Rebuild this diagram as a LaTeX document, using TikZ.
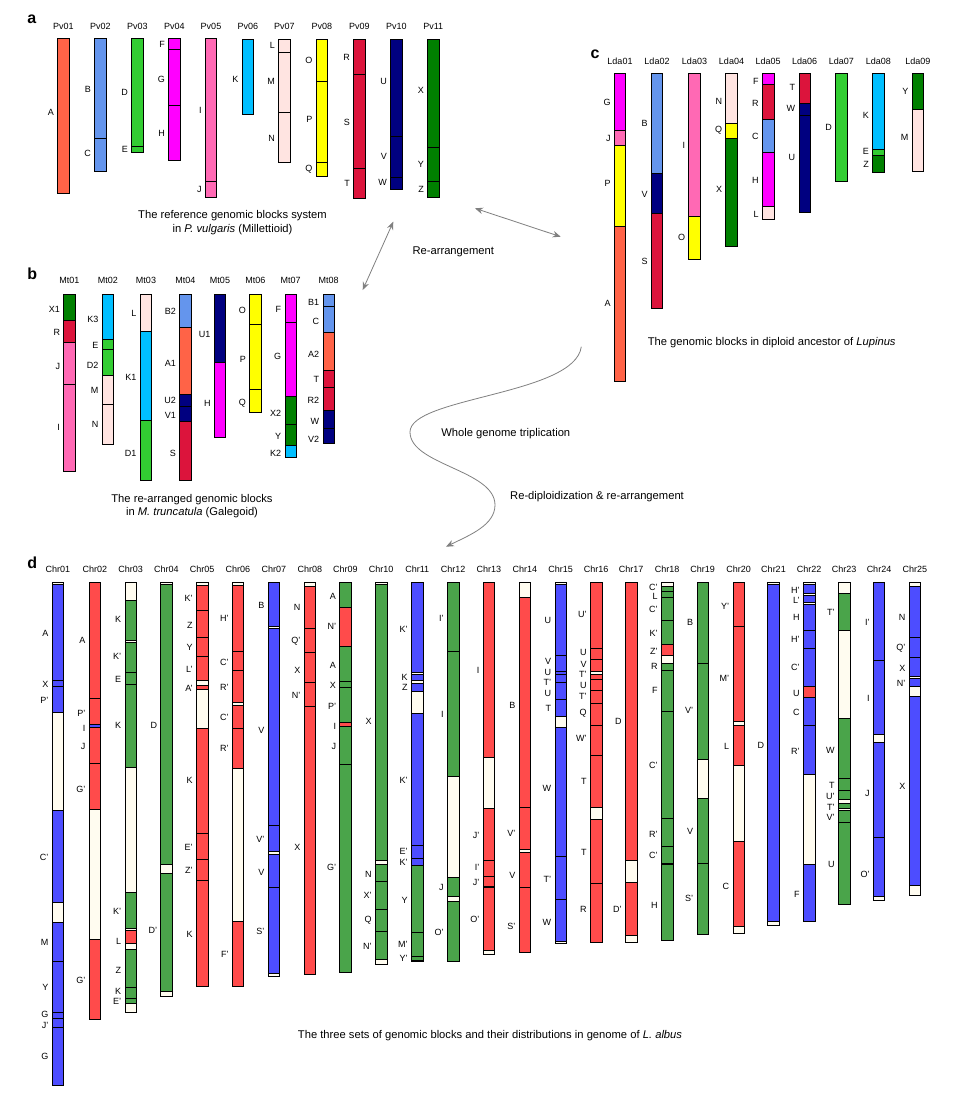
\documentclass[tikz,border=0pt]{standalone}
\usepackage{fontspec}
\setmainfont{Liberation Sans}
\usetikzlibrary{arrows.meta}

\newcommand{\chrom}[5]{%
  \node[ttl] (#1) at (#2,#3) {#1};
  \foreach \ya/\yb/\cc in {#4}
    \path[blk,fill=\cc] (#2-5.8,\ya) rectangle (#2+5.8,\yb);
  \foreach \yy/\bl [count=\k] in {#5}
    \node[lab] (#1-\k) at (#2-9.3,\yy) {\bl};
}

\begin{document}
\begin{tikzpicture}[x=1pt,y=-1pt,
  blk/.style={draw=black,line width=0.7pt},
  ttl/.style={inner sep=0pt,font=\fontsize{9}{10}\selectfont},
  lab/.style={anchor=east,inner sep=0pt,font=\fontsize{9}{10}\selectfont},
  capt/.style={inner sep=0pt,align=center,font=\fontsize{11.2}{13.5}\selectfont},
  pnl/.style={inner sep=0pt,font=\fontsize{16}{17}\bfseries\selectfont},
  flow/.style={draw=arrowColor,line width=0.8pt},
  tip/.tip={Stealth[length=8pt,width=6.5pt]}]
\definecolor{tom}{RGB}{255,99,71}
\definecolor{cfb}{RGB}{100,149,237}
\definecolor{lim}{RGB}{50,205,50}
\definecolor{mag}{RGB}{255,0,255}
\definecolor{hpk}{RGB}{255,105,180}
\definecolor{dsb}{RGB}{0,191,255}
\definecolor{mrs}{RGB}{255,228,225}
\definecolor{yel}{RGB}{255,255,0}
\definecolor{crm}{RGB}{220,20,60}
\definecolor{nav}{RGB}{0,0,128}
\definecolor{grn}{RGB}{0,128,0}
\definecolor{dB}{RGB}{77,77,255}
\definecolor{dR}{RGB}{255,75,75}
\definecolor{dG}{RGB}{74,164,74}
\definecolor{dC}{RGB}{255,252,240}
\definecolor{arrowColor}{RGB}{128,128,128}
\path[use as bounding box,fill=white] (0,0) rectangle (971,1096);

% panel a
\node[pnl] (la) at (31.7,19.5) {a};
\chrom{Pv01}{63.3}{26.7}{38.3/193.3/tom}{112/A}
\chrom{Pv02}{100.3}{26.7}{38.3/138/cfb,138/171.3/cfb}{89/B,153/C}
\chrom{Pv03}{137.3}{26.7}{38.3/146/lim,146/152.3/lim}{92/D,149/E}
\chrom{Pv04}{174.3}{26.7}{38.3/49.3/mag,49.3/105.3/mag,105.3/160/mag}{44/F,79/G,133/H}
\chrom{Pv05}{211}{26.7}{38.3/181.3/hpk,181.3/197.3/hpk}{110/I,189/J}
\chrom{Pv06}{247.8}{26.7}{39.3/114.3/dsb}{79/K}
\chrom{Pv07}{284.3}{26.7}{39.3/52.3/mrs,52.3/112.7/mrs,112.7/162.3/mrs}{45.7/L,81/M,138/N}
\chrom{Pv08}{321.8}{26.7}{39.3/81.3/yel,81.3/162.3/yel,162.3/176/yel}{60/O,119/P,169/Q}
\chrom{Pv09}{359.3}{26.7}{39.3/74.7/crm,74.7/168.7/crm,168.7/198.3/crm}{57/R,122/S,183.7/T}
\chrom{Pv10}{396.3}{26.7}{39.3/136/nav,136/177.7/nav,177.7/189.3/nav}{81/U,156/V,182.7/W}
\chrom{Pv11}{433.3}{26.7}{39.3/147.3/grn,147.3/181.7/grn,181.7/197.3/grn}{90/X,164/Y,189.7/Z}
\node[capt] (capa) at (232.5,222.7) {The reference genomic blocks system\\in \textit{P. vulgaris} (Millettioid)};

% panel b
\node[pnl] (lb) at (32.3,274) {b};
\chrom{Mt01}{69.5}{280.7}{294/320.3/grn,320.3/342.3/crm,342.3/384.3/hpk,384.3/471/hpk}{309.3/X1,332.3/R,366/J,427.7/I}
\chrom{Mt02}{107.8}{280.7}{294/339.3/dsb,339.3/349.3/lim,349.3/375.3/lim,375.3/404.3/mrs,404.3/444.3/mrs}{319/K3,345.7/E,365.7/D2,390.7/M,424.7/N}
\chrom{Mt03}{146}{280.7}{294/331.3/mrs,331.3/420/dsb,420/480.3/lim}{313.7/L,377.3/K1,453/D1}
\chrom{Mt04}{185.5}{280.7}{294/327.3/cfb,327.3/394.3/tom,394.3/406.3/nav,406.3/421.7/nav,421.7/480.3/crm}{311.7/B2,363.7/A1,400/U2,415/V1,453.3/S}
\chrom{Mt05}{220}{280.7}{294/362.7/nav,362.7/437/mag}{334/U1,403.7/H}
\chrom{Mt06}{255.3}{280.7}{294/324.3/yel,324.3/389.3/yel,389.3/412.3/yel}{310.3/O,359.3/P,403.3/Q}
\chrom{Mt07}{290.7}{280.7}{294/322.3/mag,322.3/396.7/mag,396.7/424.7/grn,424.7/445.3/grn,445.3/457.3/dsb}{309.3/F,356.7/G,413.7/X2,436.7/Y,453.3/K2}
\chrom{Mt08}{328.7}{280.7}{294/306.3/cfb,306.3/332.3/cfb,332.3/370.7/tom,370.7/387.7/crm,387.7/410/crm,410/428.7/nav,428.7/443.3/nav}{302.3/B1,321/C,354.7/A2,379/T,400.3/R2,421.3/W,439/V2}
\node[capt] (capb) at (192,506.3) {The re-arranged genomic blocks\\in \textit{M. truncatula} (Galegoid)};

% panel c
\node[pnl] (lc) at (595,54) {c};
\chrom{Lda01}{620}{61.7}{73.3/130.3/mag,130.3/145.3/hpk,145.3/226.3/yel,226.3/381.3/tom}{102.7/G,138.3/J,183.3/P,303.3/A}
\chrom{Lda02}{657}{61.7}{73.3/173.3/cfb,173.3/213.3/nav,213.3/308/crm}{123.3/B,194/V,261.7/S}
\chrom{Lda03}{694.5}{61.7}{73.3/216.3/hpk,216.3/259/yel}{145.3/I,237.7/O}
\chrom{Lda04}{731.5}{61.7}{73.3/123.3/mrs,123.3/138.3/yel,138.3/246.3/grn}{101/N,130.7/Q,189.7/X}
\chrom{Lda05}{768.2}{61.7}{73.3/84.3/mag,84.3/119.3/crm,119.3/152.3/cfb,152.3/206.3/mag,206.3/219.3/mrs}{81/F,103.7/R,136/C,180/H,214/L}
\chrom{Lda06}{804.7}{61.7}{73.3/103/crm,103/115.3/nav,115.3/212.3/nav}{87.7/T,108.7/W,157.7/U}
\chrom{Lda07}{841.3}{61.7}{73.3/181.3/lim}{127.7/D}
\chrom{Lda08}{878.3}{61.7}{73.3/149.3/dsb,149.3/155.3/lim,155.3/172.3/grn}{115/K,151/E,164/Z}
\chrom{Lda09}{917.8}{61.7}{73.3/109/grn,109/171.3/mrs}{91.7/Y,137.7/M}
\node[capt] (capc) at (771.7,342.7) {The genomic blocks in diploid ancestor of \textit{Lupinus}};

% arrows
\coordinate (ac1) at (475,208.3);
\coordinate (ac2) at (560.7,236.7);
\coordinate (ab1) at (393.3,221.7);
\coordinate (ab2) at (362.7,290);
\coordinate (cd1) at (581.3,346.7);
\coordinate (cd2) at (446,546.7);
\draw[flow,tip-tip] (ac1) -- (ac2);
\draw[flow,tip-tip] (ab1) -- (ab2);
\draw[flow,-tip] (cd1) .. controls (575,395) and (410,397) .. (410,432)
  .. controls (410,465) and (495,470) .. (495,505)
  .. controls (495,525) and (470,535) .. (cd2);
\node[capt] (rearr) at (453.3,251.7) {Re-arrangement};
\node[capt] (wgt) at (505.8,434) {Whole genome triplication};
\node[capt,anchor=west] (rediplo) at (510,496.7) {Re-diploidization \& re-arrangement};

% panel d
\node[pnl] (ld) at (32.3,562.7) {d};
\chrom{Chr01}{57.8}{569.3}{582.3/584.3/dC,584.3/680.7/dB,680.7/686.3/dB,686.3/712.3/dB,712.3/810.3/dC,810.3/902.3/dB,902.3/922.3/dC,922.3/961.7/dB,961.7/1012/dB,1012/1018.3/dB,1018.3/1027.7/dB,1027.7/1085.3/dB}{633.7/A,684.3/X,700.7/P',857.7/C',942.7/M,987.7/Y,1014.3/G,1025/J',1056.7/G}
\chrom{Chr02}{94.8}{569.3}{582.3/698.7/dR,698.7/724.3/dR,724.3/727.7/dB,727.7/763.3/dR,763.3/809.3/dR,809.3/939.3/dC,939.3/1019.3/dR}{640.7/A,713.3/P',728.3/I,746.7/J,789.3/G',980.7/G'}
\chrom{Chr03}{130.7}{569.3}{582.3/600.3/dC,600.3/640.3/dG,640.3/642.3/dC,642.3/672/dG,672/684.7/dG,684.7/767/dG,767/892.3/dC,892.3/928.3/dG,928.3/930/dC,930/943.7/dR,943.7/949.7/dC,949.7/987/dG,987/998/dG,998/1003.7/dG,1003.7/1012.7/dC}{619.7/K,656.7/K',679.3/E,725.7/K,911.7/K',941.7/L,970.7/Z,991.7/K,1001.7/E'}
\chrom{Chr04}{166.5}{569.3}{582.3/584.3/dC,584.3/864.3/dG,864.3/873.3/dC,873.3/991.7/dG,991.7/996/dC}{725.7/D,930.7/D'}
\chrom{Chr05}{202.2}{569.3}{582.3/585.7/dC,585.7/610.3/dR,610.3/637.3/dR,637.3/656.7/dR,656.7/680.3/dR,680.3/685/dC,685/689.3/dR,689.3/728.7/dC,728.7/833.7/dR,833.7/859.3/dR,859.3/880/dR,880/986.7/dR}{598.3/K',625.3/Z,647.7/Y,669.3/L',688.7/A',780.7/K,847.3/E',870.7/Z',934.3/K}
\chrom{Chr06}{238}{569.3}{582.3/585/dC,585/651.7/dR,651.7/670/dR,670/702.7/dR,702.7/705.7/dC,705.7/728.3/dR,728.3/768.3/dR,768.3/921/dC,921/986.7/dR}{618.7/H',662.7/C',687.7/R',717.3/C',748.3/R',954.3/F'}
\chrom{Chr07}{273.8}{569.3}{582.3/626/dB,626/628.7/dC,628.7/825.3/dB,825.3/851/dB,851/854.3/dC,854.3/887.7/dB,887.7/973.3/dB,973.3/976.7/dC}{605.7/B,730.7/V,839.3/V',872.3/V,931/S'}
\chrom{Chr08}{309.8}{569.3}{582.3/586/dC,586/628.3/dR,628.3/652.7/dR,652.7/682.7/dR,682.7/706.7/dR,706.7/974/dR}{607.7/N,641/Q',670/X,695.3/N',847.3/X}
\chrom{Chr09}{345.5}{569.3}{582.3/607.3/dG,607.3/646.7/dR,646.7/681.7/dG,681.7/687/dG,687/722.7/dG,722.7/726/dR,726/764.3/dG,764.3/972.3/dG}{596.7/A,626.7/N',665.7/A,685/X,706/P',726/I,746.7/J,867.7/G'}
\chrom{Chr10}{381.2}{569.3}{582.3/584.3/dC,584.3/860.7/dG,860.7/864/dC,864/881/dG,881/909.3/dG,909.3/931/dG,931/959.3/dG,959.3/964/dC}{721.7/X,874.3/N,895.7/X',920/Q,946/N'}
\chrom{Chr11}{417.2}{569.3}{582.3/672.7/dB,672.7/674.7/dC,674.7/680/dB,680/683.3/dC,683.3/691.3/dB,691.3/713.3/dC,713.3/845/dB,845/858.3/dB,858.3/865.3/dB,865.3/932.7/dG,932.7/956.7/dG,956.7/960/dG,960/961.5/dC}{629/K',677/K,687.7/Z,780/K',851.3/E',862.3/K',900/Y,944.7/M',958.7/Y'}
\chrom{Chr12}{453.2}{569.3}{582.3/651.7/dG,651.7/776.7/dG,776.7/877.7/dC,877.7/896/dG,896/901/dC,901/961/dG}{618.3/I',714.3/I,887.3/J,932.3/O'}
\chrom{Chr13}{488.8}{569.3}{582.3/757.3/dR,757.3/808.3/dC,808.3/860/dR,860/876/dR,876/886/dR,886/887.7/dC,887.7/950/dR,950/954/dC}{670/I,835/J',867.7/I',882.3/J',919.3/O'}
\chrom{Chr14}{524.8}{569.3}{582.3/597.3/dC,597.3/807.3/dR,807.3/849.3/dR,849.3/852.3/dC,852.3/887.7/dR,887.7/952.3/dR}{705/B,833.3/V',875/V,926.7/S'}
\chrom{Chr15}{560.7}{569.3}{582.3/584.3/dC,584.3/655.3/dB,655.3/671.3/dB,671.3/674.5/dB,674.5/682/dB,682/699.3/dB,699.3/716.3/dB,716.3/727.3/dC,727.3/856.3/dB,856.3/899/dB,899/941/dB,941/943.3/dC}{620.7/U,661.7/V,672.3/U,682.7/T',693.3/U,708.3/T,788.3/W,879.3/T',922.7/W}
\chrom{Chr16}{596.2}{569.3}{582.3/648.7/dR,648.7/659.3/dR,659.3/671.3/dR,671.3/674/dC,674/679.3/dR,679.3/690.7/dR,690.7/703.3/dR,703.3/725.7/dR,725.7/755.7/dR,755.7/807.3/dR,807.3/819.3/dC,819.3/883.3/dR,883.3/942.3/dR}{614.7/U',652.3/U,664.7/V,674/T',685/U,696.7/T',712.7/Q,738.3/W',781.3/T,852.3/T,909.3/R}
\chrom{Chr17}{631.2}{569.3}{582.3/860/dR,860/882.3/dC,882.3/935.7/dR,935.7/942.3/dC}{721.7/D,909.3/D'}
\chrom{Chr18}{667.2}{569.3}{582.3/586.7/dC,586.7/591.3/dG,591.3/597.7/dG,597.7/620/dG,620/644/dG,644/655/dR,655/663.3/dC,663.3/670/dG,670/711/dG,711/818.7/dG,818.7/846/dG,846/863.3/dG,863.3/864.3/dC,864.3/940/dG}{587.7/C',596.7/L,609.7/C',633.3/K',651.7/Z',666.7/R,690/F,765.7/C',834.3/R',855.7/C',905.7/H}
\chrom{Chr19}{702.7}{569.3}{582.3/663.3/dG,663.3/759.3/dG,759.3/798.7/dC,798.7/863.3/dG,863.3/934.3/dG}{622.7/B,710.7/V',831/V,898.3/S'}
\chrom{Chr20}{738.7}{569.3}{582.3/626.7/dR,626.7/721.7/dR,721.7/725.7/dC,725.7/765.7/dR,765.7/841.7/dC,841.7/926.7/dR,926.7/933.3/dC}{606.7/Y',678.3/M',746.7/L,886.7/C}
\chrom{Chr21}{773.5}{569.3}{582.3/584.3/dC,584.3/921.7/dB,921.7/925/dC}{745.7/D}
\chrom{Chr22}{809.2}{569.3}{582.3/584.7/dC,584.7/593.7/dB,593.7/595.7/dC,595.7/602.3/dB,602.3/604/dC,604/630.7/dB,630.7/648/dB,648/686.3/dB,686.3/697.7/dR,697.7/725.7/dB,725.7/774/dB,774/864.3/dC,864.3/921.7/dB}{590.3/H',600.3/L',617.7/H,639.3/H',667.7/C',693.3/U,712.3/C,751.7/R',894.3/F}
\chrom{Chr23}{844.2}{569.3}{582.3/593.3/dC,593.3/630.3/dG,630.3/718.3/dC,718.3/778.7/dG,778.7/790.3/dG,790.3/799.3/dG,799.3/803.3/dC,803.3/808.7/dG,808.7/810.3/dC,810.3/822/dG,822/904.3/dG}{612.7/T',750.3/W,785.7/T,796.7/U',807.7/T',817.3/V',864.3/U}
\chrom{Chr24}{879}{569.3}{582.3/660.3/dB,660.3/734/dB,734/742.7/dC,742.7/837.7/dB,837.7/896.7/dB,896.7/900/dC}{622/I',698.3/I,793.3/J,874.3/O'}
\chrom{Chr25}{914.8}{569.3}{582.3/586.7/dC,586.7/637.7/dB,637.7/657.7/dB,657.7/676/dB,676/678.3/dC,678.3/686.3/dB,686.3/696.7/dC,696.7/885/dB,885/895/dC}{617.7/N,647.7/Q',668.3/X,683.3/N',786.7/X}
\node[capt] (capd) at (490,1035.7) {The three sets of genomic blocks and their distributions in genome of \textit{L. albus}};
\end{tikzpicture}
\end{document}
